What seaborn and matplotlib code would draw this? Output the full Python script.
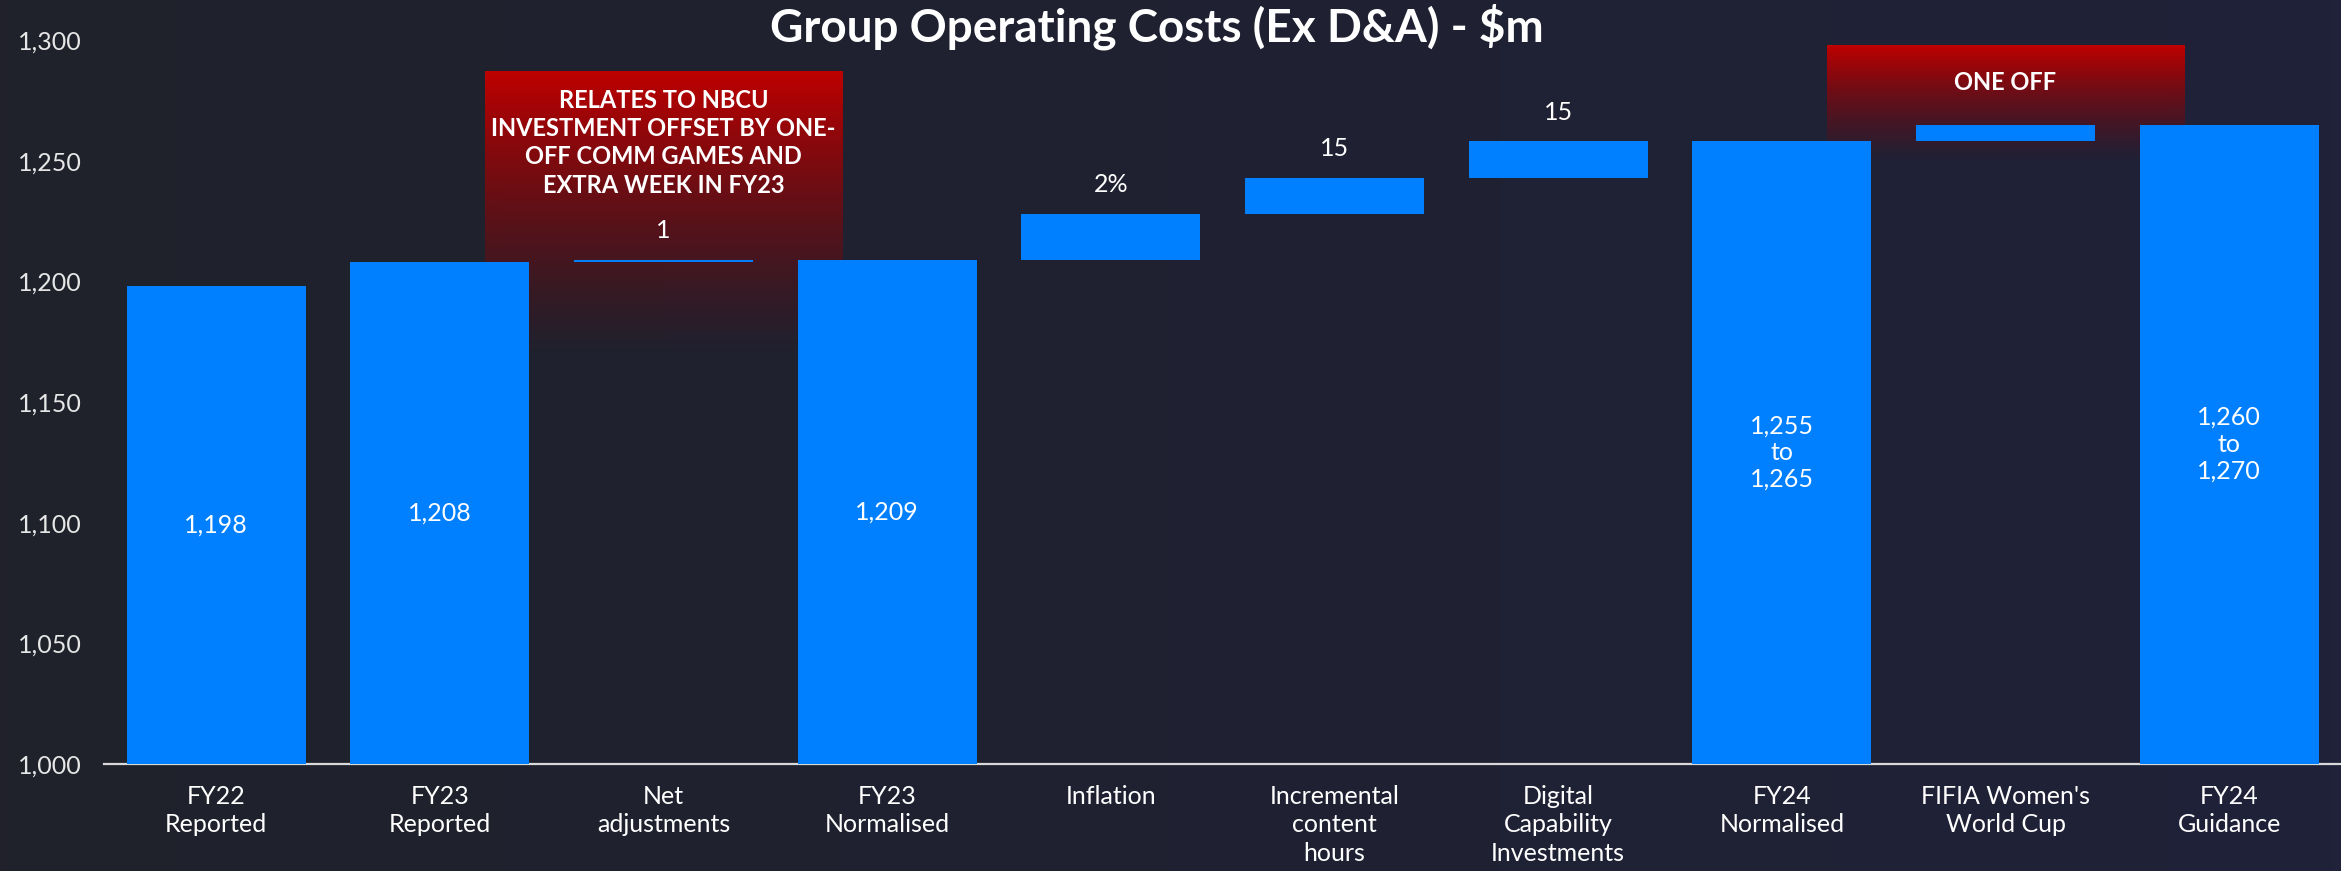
import numpy as np
import pandas as pd
import matplotlib
matplotlib.use("Agg")
import matplotlib.pyplot as plt
import matplotlib.ticker as mticker
import seaborn as sns
from matplotlib.colors import to_rgb

# --- data ---
categories = [
    "FY22\nReported", "FY23\nReported", "Net\nadjustments", "FY23\nNormalised",
    "Inflation", "Incremental\ncontent\nhours", "Digital\nCapability\nInvestments",
    "FY24\nNormalised", "FIFIA Women's\nWorld Cup", "FY24\nGuidance",
]
bar_bottom = [0, 0, 1208, 0, 1209, 1228, 1243, 0, 1258, 0]
bar_top = [1198, 1208, 1209, 1209, 1228, 1243, 1258, 1258, 1265, 1265]
value_labels = ["1,198", "1,208", "1", "1,209", "2%", "15", "15",
                "1,255\nto\n1,265", "", "1,260\nto\n1,270"]
is_total = [True, True, False, True, False, False, False, True, False, True]
y_ticks = [1000, 1050, 1100, 1150, 1200, 1250, 1300]
note_texts = ["RELATES TO NBCU\nINVESTMENT OFFSET BY ONE-\nOFF COMM GAMES AND\nEXTRA WEEK IN FY23",
              "ONE OFF"]
note_categories = [2, 8]

COLORS = {
    "bg_left": "#20212B",
    "bg_right": "#1F2239",
    "bar": "#0080FF",
    "text": "#FFFFFF",
    "tick": "#E6E6E6",
    "axis": "#D9D9D9",
    "note": "#C00000",
}
FONT = "Lato"

sns.set_theme(style="white")
plt.rcParams.update({
    "font.family": [FONT, "DejaVu Sans"],
    "text.color": COLORS["text"],
})

fig = plt.figure(figsize=(23.41, 8.71), dpi=100)

# background gradient
bg = fig.add_axes([0, 0, 1, 1], zorder=-10)
left, right = np.array(to_rgb(COLORS["bg_left"])), np.array(to_rgb(COLORS["bg_right"]))
t = np.linspace(0, 1, 256)
grad = (left[None, :] * (1 - t[:, None]) + right[None, :] * t[:, None])[None, :, :]
bg.imshow(grad, aspect="auto", extent=(0, 1, 0, 1))
bg.set_axis_off()

ax = fig.add_axes([0.0446, 0.123, 0.9554, 0.831])
ax.set_facecolor("none")

df = pd.DataFrame({
    "category": categories,
    "height": np.array(bar_top) - np.array(bar_bottom),
    "bottom": bar_bottom,
})

sns.barplot(data=df, x="category", y="height", bottom=df["bottom"].values,
            color=COLORS["bar"], saturation=1, width=0.8, linewidth=0,
            edgecolor="none", zorder=3, ax=ax)

# red fading note boxes
note_top = [1287, 1298]
note_bottom = [1170, 1250]
red = np.array(to_rgb(COLORS["note"]))
for i, cat in enumerate(note_categories):
    alpha = np.linspace(1, 0, 200)
    rgba = np.zeros((200, 1, 4))
    rgba[:, 0, :3] = red * (1 - 0.35 * (1 - alpha))[:, None]
    rgba[:, 0, 3] = alpha
    ax.imshow(rgba, aspect="auto", zorder=1,
              extent=(cat - 0.8, cat + 0.8, note_bottom[i], note_top[i]))

ax.set_ylim(1000, 1300)
ax.set_xlim(-0.5, len(categories) - 0.5)
ax.set_yticks(y_ticks)
ax.yaxis.set_major_formatter(mticker.FuncFormatter(lambda v, p: f"{v:,.0f}"))
ax.set_xlabel("")
ax.set_ylabel("")
ax.tick_params(axis="both", length=0, labelsize=18, colors=COLORS["tick"])
ax.tick_params(axis="y", pad=16)
ax.tick_params(axis="x", pad=15, labelcolor=COLORS["text"])
for lbl in ax.get_xticklabels():
    lbl.set_linespacing(1.3)
for side in ["top", "right", "left"]:
    ax.spines[side].set_visible(False)
ax.spines["bottom"].set_color(COLORS["axis"])
ax.spines["bottom"].set_linewidth(1.6)

ax.text(note_categories[0], 1257.5, note_texts[0], ha="center", va="center",
        fontsize=17, fontweight="bold", color=COLORS["text"], linespacing=1.28, zorder=4)
ax.text(note_categories[1], 1282.5, note_texts[1], ha="center", va="center",
        fontsize=17, fontweight="bold", color=COLORS["text"], zorder=4)

# value labels
for i, lab in enumerate(value_labels):
    if not lab:
        continue
    if is_total[i]:
        ax.text(i, (1000 + bar_top[i]) / 2, lab, ha="center", va="center",
                fontsize=18, color=COLORS["text"], linespacing=1.2, zorder=5)
    else:
        ax.text(i, bar_top[i] + 12, lab, ha="center", va="center",
                fontsize=18, color=COLORS["text"], zorder=5)

fig.text(0.494, 0.969, "Group Operating Costs (Ex D&A) - \\$m", ha="center", va="center",
         fontsize=33, fontweight="bold", color=COLORS["text"])

fig.savefig("out.png", dpi=100, facecolor=COLORS["bg_left"])
plt.close(fig)
